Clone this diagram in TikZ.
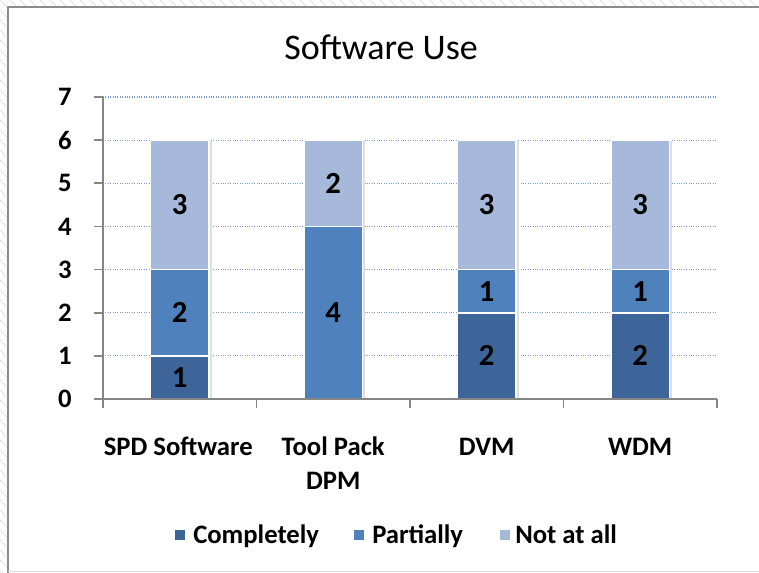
\documentclass[tikz,border=0pt]{standalone}
\usepackage{fontspec}
\setmainfont{Carlito}
\usetikzlibrary{arrows.meta, calc, positioning}
\definecolor{barcomplete}{RGB}{61,101,153}
\definecolor{barpartial}{RGB}{79,129,189}
\definecolor{barnone}{RGB}{167,185,218}
\definecolor{gridblue}{RGB}{125,155,205}
\definecolor{axisgray}{RGB}{134,134,134}
\definecolor{framegray}{RGB}{140,140,140}

\begin{document}
\begin{tikzpicture}[x=0.75pt, y=-0.75pt,
    seg/.style={draw=white, line width=1.2pt},
    valtext/.style={font=\fontsize{23}{27}\selectfont\bfseries},
    cattext/.style={font=\fontsize{20}{24}\selectfont\bfseries, anchor=base},
    ticktext/.style={font=\fontsize{20}{24}\selectfont\bfseries, anchor=east, inner sep=0pt},
    legtext/.style={font=\fontsize{20}{24}\selectfont\bfseries, anchor=base west, inner sep=0pt},
    legbox/.style={minimum size=7.5pt, inner sep=0pt}]
        \useasboundingbox (0,0) rectangle (759,573);
        \fill[white] (0,0) rectangle (759,573);

        % Hatched margin
        \begin{scope}
            \clip (0,0) rectangle (759,7) (0,0) rectangle (8,573);
            \foreach \k in {-580,-570,...,760} {
                \draw[gray!30, line width=0.4pt] (\k,0) -- ++(600,600);
            }
        \end{scope}

        % Frame
        \draw[framegray, line width=1.5pt] (759,7) -- (8,7) -- (8,573);
        \draw[gray!25, line width=0.8pt] (8,571.5) -- (759,571.5);

        % Title
        \node[font=\fontsize{27}{32}\selectfont] (title) at (381,47) {Software Use};

        % Plot area: x in categories, y in counts
        \begin{scope}[shift={(103,399)}, x=115.1pt, y=32.36pt]
            % Gridlines
            \foreach \v in {1,...,7} {
                \draw[gridblue, densely dotted, line width=0.8pt] (0,\v) -- (4,\v);
            }

            % Stacked bars: completely / partially / not at all
            \foreach \i/\c/\p/\n/\name in {1/1/2/3/spd, 2/0/4/2/tool, 3/2/1/3/dvm, 4/2/1/3/wdm} {
                \pgfmathsetmacro{\xl}{\i-0.69}
                \pgfmathsetmacro{\xr}{\i-0.31}
                \pgfmathsetmacro{\xm}{\i-0.5}
                \pgfmathsetmacro{\cp}{\c+\p}
                \pgfmathsetmacro{\top}{\c+\p+\n}
                \fill[black!13] (\xr,0) rectangle ($(\xr,\top)+(0.02,-0.03)$);
                \ifnum\c>0
                    \filldraw[seg, fill=barcomplete] (\xl,0) rectangle (\xr,\c);
                    \node[valtext] (\name-c) at (\xm,\c/2) {\c};
                \fi
                \filldraw[seg, fill=barpartial] (\xl,\c) rectangle (\xr,\cp);
                \node[valtext] (\name-p) at (\xm,\c+\p/2) {\p};
                \filldraw[seg, fill=barnone] (\xl,\cp) rectangle (\xr,\top);
                \node[valtext] (\name-n) at (\xm,\cp+\n/2) {\n};
            }

            % Axes
            \draw[axisgray, line width=1.3pt] (0,7) -- (0,0) -- (4,0);
            \foreach \v in {0,...,7} {
                \draw[axisgray, line width=1.3pt] (0,\v) -- ++(-0.06,0);
                \node[ticktext] (tick\v) at (-0.203,\v) {\v};
            }
            \foreach \i in {0,...,4} {
                \draw[axisgray, line width=1.3pt] (\i,0) -- ++(0,-0.2);
            }

            % Category labels
            \node[cattext] (catspd) at (0.49,-1.32) {SPD Software};
            \node[cattext] (cattool) at (1.5,-1.32) {Tool Pack};
            \node[cattext] (catdpm) at (1.5,-2.09) {DPM};
            \node[cattext] (catdvm) at (2.5,-1.32) {DVM};
            \node[cattext] (catwdm) at (3.5,-1.32) {WDM};
        \end{scope}

        % Legend
        \node[legbox, fill=barcomplete] (keycomplete) at (180,535) {};
        \node[legbox, fill=barpartial] (keypartial) at (359,535) {};
        \node[legbox, fill=barnone] (keynone) at (505,535) {};
        \node[legtext] (legcomplete) at (193,543) {Completely};
        \node[legtext] (legpartial) at (372,543) {Partially};
        \node[legtext] (legnone) at (515,543) {Not at all};
    \end{tikzpicture}
\end{document}
